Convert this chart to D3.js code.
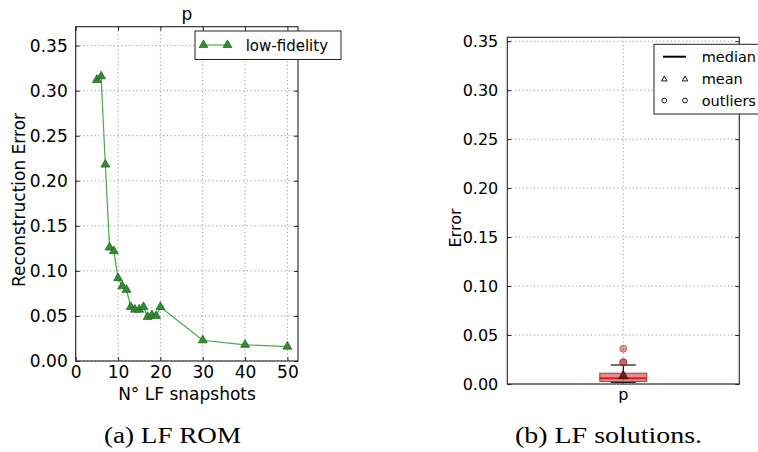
<!DOCTYPE html>
<html>
<head>
<meta charset="utf-8">
<script src="https://cdn.jsdelivr.net/npm/d3@7"></script>
<style>
  html, body { margin: 0; padding: 0; background: #fff; }
  svg { display: block; }
  text { font-family: "DejaVu Sans", sans-serif; fill: #000; }
  .caption { font-family: "Liberation Serif", "DejaVu Serif", serif; }
</style>
</head>
<body>
<svg id="fig" width="758" height="452"></svg>
<script>
// ---- (a) reconstruction error of the low-fidelity ROM vs number of snapshots
const snapshots = [5, 6, 7, 8, 9, 10, 11, 12, 13, 14, 15, 16, 17, 18, 19, 20, 30, 40, 50];
const lfError = [0.312, 0.316, 0.218, 0.126, 0.122, 0.092, 0.083, 0.079, 0.060, 0.057,
                 0.057, 0.060, 0.049, 0.051, 0.050, 0.060, 0.023, 0.018, 0.016];
const xTicksA = [0, 10, 20, 30, 40, 50];
const yTicks = [0.00, 0.05, 0.10, 0.15, 0.20, 0.25, 0.30, 0.35];

// ---- (b) distribution of the LF solution error for field p
const boxCategory = ["p"];
const boxQ1 = [0.0025];
const boxMedian = [0.0058];
const boxQ3 = [0.0110];
const whiskerLow = [0.0017];
const whiskerHigh = [0.0194];
const boxMean = [0.0082];
const outliers = [0.0220, 0.0222, 0.0360];

const legendA = ["low-fidelity"];
const legendB = ["median", "mean", "outliers"];

const svg = d3.select("#fig");
const gridDash = "1.2,2.6";

function frame(g, x0, x1, y0, y1) {
  g.append("rect").attr("x", x0).attr("y", y0)
    .attr("width", x1 - x0).attr("height", y1 - y0)
    .attr("fill", "none").attr("stroke", "#222").attr("stroke-width", 1.1);
}

// ================= panel (a) =================
{
  const L = 75.7, R = 298, T = 26.7, B = 361;
  const x = d3.scaleLinear().domain([0, 52.5]).range([L, R]);
  const y = d3.scaleLinear().domain([0, 0.371]).range([B, T]);
  const g = svg.append("g");

  // grid
  g.selectAll(".gx").data(xTicksA).join("line")
    .attr("x1", d => x(d)).attr("x2", d => x(d)).attr("y1", T).attr("y2", B)
    .attr("stroke", "#9a9a9a").attr("stroke-dasharray", gridDash);
  g.selectAll(".gy").data(yTicks).join("line")
    .attr("x1", L).attr("x2", R).attr("y1", d => y(d)).attr("y2", d => y(d))
    .attr("stroke", "#9a9a9a").attr("stroke-dasharray", gridDash);

  // inward ticks on all four sides
  const xb = g.append("g").attr("transform", `translate(0,${B})`)
    .call(d3.axisBottom(x).tickValues(xTicksA).tickSizeInner(-4).tickSizeOuter(0).tickPadding(5).tickFormat(d3.format("d")));
  const xt = g.append("g").attr("transform", `translate(0,${T})`)
    .call(d3.axisTop(x).tickValues(xTicksA).tickSizeInner(-4).tickSizeOuter(0).tickFormat(""));
  const yl = g.append("g").attr("transform", `translate(${L},0)`)
    .call(d3.axisLeft(y).tickValues(yTicks).tickSizeInner(-4).tickSizeOuter(0).tickPadding(8).tickFormat(d3.format(".2f")));
  const yr = g.append("g").attr("transform", `translate(${R},0)`)
    .call(d3.axisRight(y).tickValues(yTicks).tickSizeInner(-4).tickSizeOuter(0).tickFormat(""));
  [xb, xt, yl, yr].forEach(a => {
    a.select(".domain").remove();
    a.selectAll("line").attr("stroke", "#222");
    a.selectAll("text").style("font-family", "DejaVu Sans").style("font-size", "17px").attr("fill", "#000");
  });

  // data line + triangle markers
  const pts = snapshots.map((s, i) => [s, lfError[i]]);
  g.append("path").datum(pts)
    .attr("d", d3.line().x(d => x(d[0])).y(d => y(d[1])))
    .attr("fill", "none").attr("stroke", "#4aa84a").attr("stroke-width", 1.2);
  const tri = d3.symbol().type(d3.symbolTriangle).size(34);
  g.selectAll(".m").data(pts).join("path")
    .attr("transform", d => `translate(${x(d[0])},${y(d[1])})`)
    .attr("d", tri).attr("fill", "#2f8f2f").attr("stroke", "#1d5a1d").attr("stroke-width", 0.7);

  frame(g, L, R, T, B);

  // texts
  g.append("text").attr("x", (L + R) / 2).attr("y", 20).attr("text-anchor", "middle")
    .style("font-size", "17px").text("p");
  g.append("text").attr("x", 187).attr("y", 400).attr("text-anchor", "middle")
    .style("font-size", "17px").text("N° LF snapshots");
  g.append("text").attr("transform", "translate(25,200) rotate(-90)").attr("text-anchor", "middle")
    .style("font-size", "17px").text("Reconstruction Error");

  // legend
  const lg = g.append("g");
  lg.append("rect").attr("x", 195).attr("y", 31).attr("width", 146).attr("height", 28.5)
    .attr("fill", "#fff").attr("stroke", "#222").attr("stroke-width", 1);
  lg.append("line").attr("x1", 203).attr("x2", 228).attr("y1", 45).attr("y2", 45)
    .attr("stroke", "#4aa84a").attr("stroke-width", 1.2);
  [203.5, 227.5].forEach(px => lg.append("path").attr("transform", `translate(${px},45)`)
    .attr("d", tri).attr("fill", "#2f8f2f").attr("stroke", "#1d5a1d").attr("stroke-width", 0.7));
  lg.append("text").attr("x", 245.7).attr("y", 50.5).style("font-size", "15px").text(legendA[0]);
}

// ================= panel (b) =================
{
  const L = 507.3, R = 739.3, T = 37.3, B = 384;
  const x = d3.scaleBand().domain(boxCategory).range([L, R]);
  const y = d3.scaleLinear().domain([0, 0.354]).range([B, T]);
  const g = svg.append("g");
  const cx = c => x(c) + x.bandwidth() / 2;

  g.selectAll(".gx").data(boxCategory).join("line")
    .attr("x1", d => cx(d)).attr("x2", d => cx(d)).attr("y1", T).attr("y2", B)
    .attr("stroke", "#9a9a9a").attr("stroke-dasharray", gridDash);
  g.selectAll(".gy").data(yTicks).join("line")
    .attr("x1", L).attr("x2", R).attr("y1", d => y(d)).attr("y2", d => y(d))
    .attr("stroke", "#9a9a9a").attr("stroke-dasharray", gridDash);

  const yl = g.append("g").attr("transform", `translate(${L},0)`)
    .call(d3.axisLeft(y).tickValues(yTicks).tickSizeInner(-4).tickSizeOuter(0).tickPadding(9).tickFormat(d3.format(".2f")));
  const yr = g.append("g").attr("transform", `translate(${R},0)`)
    .call(d3.axisRight(y).tickValues(yTicks).tickSizeInner(-4).tickSizeOuter(0).tickFormat(""));
  const xb = g.append("g").attr("transform", `translate(0,${B})`)
    .call(d3.axisBottom(x).tickSizeInner(0).tickSizeOuter(0).tickPadding(5));
  [yl, yr, xb].forEach(a => {
    a.select(".domain").remove();
    a.selectAll("line").attr("stroke", "#222");
    a.selectAll("text").style("font-family", "DejaVu Sans").style("font-size", "16px").attr("fill", "#000");
  });

  const boxW = 47, capW = 25;
  boxCategory.forEach((c, i) => {
    const c0 = cx(c);
    // whiskers
    g.append("line").attr("x1", c0).attr("x2", c0).attr("y1", y(boxQ3[i])).attr("y2", y(whiskerHigh[i]))
      .attr("stroke", "#000").attr("stroke-width", 1.1);
    g.append("line").attr("x1", c0).attr("x2", c0).attr("y1", y(boxQ1[i])).attr("y2", y(whiskerLow[i]))
      .attr("stroke", "#000").attr("stroke-width", 1.1);
    [whiskerHigh[i], whiskerLow[i]].forEach(v => g.append("line")
      .attr("x1", c0 - capW / 2).attr("x2", c0 + capW / 2).attr("y1", y(v)).attr("y2", y(v))
      .attr("stroke", "#222").attr("stroke-width", 1.3));
    // box
    g.append("rect").attr("x", c0 - boxW / 2).attr("y", y(boxQ3[i]))
      .attr("width", boxW).attr("height", y(boxQ1[i]) - y(boxQ3[i]))
      .attr("fill", "rgba(200,50,50,0.55)").attr("stroke", "#9a4040").attr("stroke-width", 1);
    // median
    g.append("line").attr("x1", c0 - boxW / 2).attr("x2", c0 + boxW / 2)
      .attr("y1", y(boxMedian[i])).attr("y2", y(boxMedian[i]))
      .attr("stroke", "#e01818").attr("stroke-width", 2);
    // mean
    g.append("path").attr("transform", `translate(${c0},${y(boxMean[i])})`)
      .attr("d", d3.symbol().type(d3.symbolTriangle).size(40))
      .attr("fill", "rgba(90,10,10,0.85)").attr("stroke", "#300").attr("stroke-width", 0.6);
    // outliers
    g.selectAll(".o").data(outliers).join("circle")
      .attr("cx", c0).attr("cy", d => y(d)).attr("r", 3.6)
      .attr("fill", "rgba(190,50,50,0.5)").attr("stroke", "rgba(120,30,30,0.5)").attr("stroke-width", 0.8);
  });

  frame(g, L, R, T, B);

  g.append("text").attr("transform", "translate(461,228) rotate(-90)").attr("text-anchor", "middle")
    .style("font-size", "16px").text("Error");

  // legend
  const lg = g.append("g");
  lg.append("rect").attr("x", 654).attr("y", 44.3).attr("width", 110).attr("height", 69.7)
    .attr("fill", "#fff").attr("stroke", "#222").attr("stroke-width", 1);
  const rows = [56.7, 79.3, 100.5];
  lg.append("line").attr("x1", 663).attr("x2", 686).attr("y1", rows[0]).attr("y2", rows[0])
    .attr("stroke", "#000").attr("stroke-width", 2);
  [664.3, 685].forEach(px => {
    lg.append("path").attr("transform", `translate(${px},${rows[1]})`)
      .attr("d", d3.symbol().type(d3.symbolTriangle).size(14))
      .attr("fill", "none").attr("stroke", "#000").attr("stroke-width", 0.9);
    lg.append("circle").attr("cx", px).attr("cy", rows[2]).attr("r", 2.4)
      .attr("fill", "none").attr("stroke", "#000").attr("stroke-width", 0.9);
  });
  legendB.forEach((t, i) => lg.append("text").attr("x", 701.7).attr("y", rows[i] + 5)
    .style("font-size", "14.5px").text(t));
}

// ================= captions =================
svg.append("text").attr("class", "caption").attr("x", 104).attr("y", 443)
  .attr("textLength", 137).attr("lengthAdjust", "spacingAndGlyphs")
  .style("font-size", "24px").text("(a) LF ROM");
svg.append("text").attr("class", "caption").attr("x", 515).attr("y", 443)
  .attr("textLength", 187).attr("lengthAdjust", "spacingAndGlyphs")
  .style("font-size", "24px").text("(b) LF solutions.");
</script>
</body>
</html>
